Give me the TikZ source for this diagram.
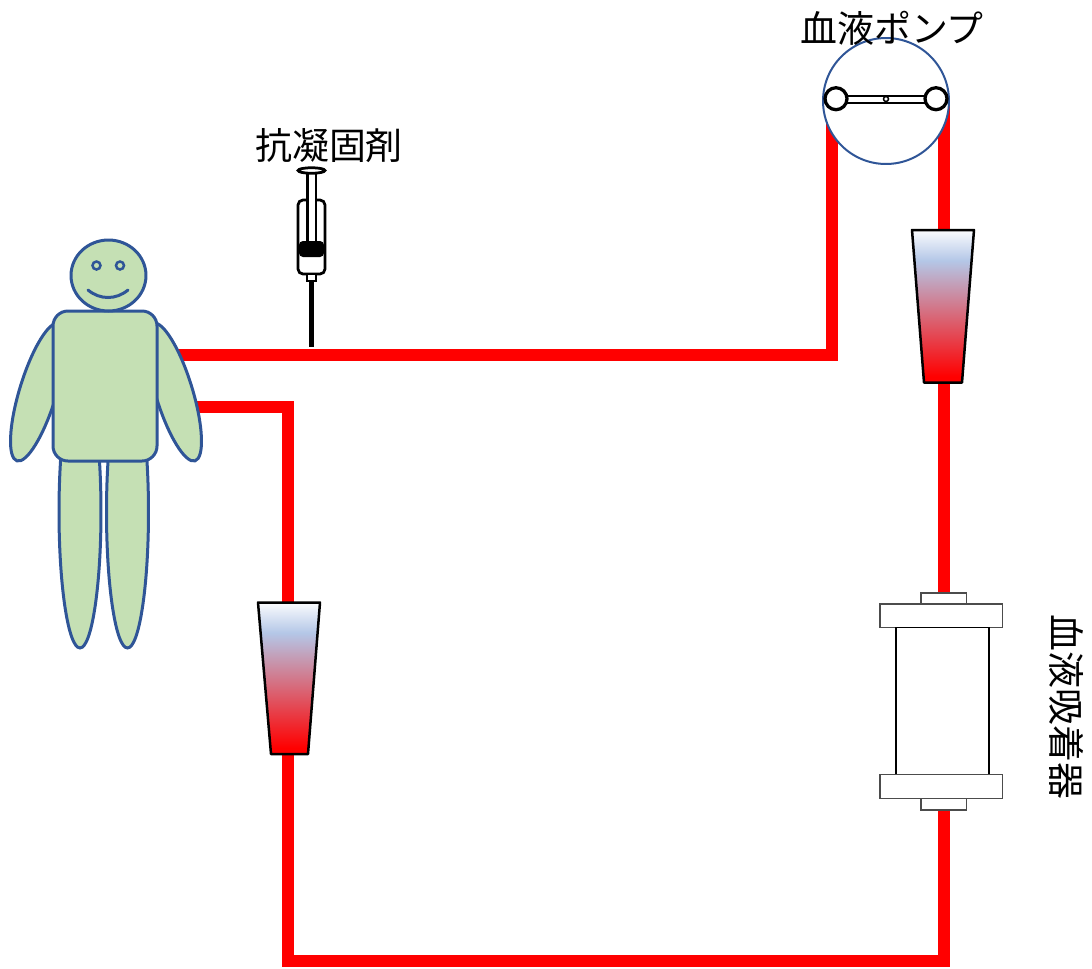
\documentclass[tikz,border=0pt]{standalone}
\usepackage{fontspec}
\newfontfamily\jp{Noto Sans CJK JP}
\definecolor{tube}{HTML}{FF0000}
\definecolor{skin}{HTML}{C5E0B4}
\definecolor{outline}{HTML}{2F5597}
\definecolor{mist}{HTML}{B4C7E7}
% drip chamber: red blood at the bottom, pale blue air space at the top
\pgfdeclareverticalshading{dripfill}{100bp}{color(0bp)=(tube); color(27bp)=(tube); color(65bp)=(mist); color(75bp)=(white!94!mist); color(100bp)=(white)}
\begin{document}
\begin{tikzpicture}[x=0.02cm,y=-0.02cm,
  tubeline/.style={draw=tube, line width=0.25cm},
  skinpart/.style={fill=skin, draw=outline, line width=0.06cm},
  lbl/.style={font=\jp\fontsize{21}{25}\selectfont, inner sep=0pt},
  chamber/.style={shading=dripfill, draw=black, line width=0.05cm, line join=round},
  colpart/.style={draw=black!70, fill=white, line width=0.026cm},
  rotorpart/.style={draw=black, fill=white, line width=0.065cm},
  syr/.style={draw=black, fill=white, line width=0.055cm}]

\useasboundingbox (0,0) rectangle (1092,968);

% tube end points
\coordinate (outlet) at (150,355);
\coordinate (pumpIn) at (832,101);
\coordinate (pumpOut) at (944,101);
\coordinate (bottomLeft) at (288,961);
\coordinate (inlet) at (170,407);

% blood circuit
\draw[tubeline] (outlet) -| (pumpIn);
\draw[tubeline] (pumpOut) |- (bottomLeft) |- (inlet);

% patient
\draw[skinpart] (80,512) ellipse [x radius=0.42cm, y radius=2.72cm];
\draw[skinpart] (127.5,512) ellipse [x radius=0.42cm, y radius=2.72cm];
\draw[skinpart, rotate around={-17:(38,392)}] (38,392) ellipse [x radius=0.37cm, y radius=1.44cm];
\draw[skinpart, rotate around={17:(174,392)}] (174,392) ellipse [x radius=0.37cm, y radius=1.44cm];
\draw[skinpart, rounded corners=0.3cm] (53,311) rectangle (157,461);
\draw[skinpart] (108.5,275.5) ellipse [x radius=0.75cm, y radius=0.71cm];
\draw[skinpart, line width=0.05cm] (96.5,265.5) circle [radius=0.08cm];
\draw[skinpart, line width=0.05cm] (120,265.5) circle [radius=0.08cm];
\draw[outline, line width=0.06cm, line cap=round] (88,290) .. controls (100,300) and (116,300) .. (128,290);

% anticoagulant syringe
\draw[syr, rounded corners=0.1cm] (298,200) rectangle (325,274);
\draw[syr] (307.5,173) rectangle (316,245);
\fill[rounded corners=0.08cm] (299,241) rectangle (324,257);
\draw[syr] (307,274) rectangle (316,281);
\draw[line width=0.1cm] (311.5,281) -- (311.5,347);
\draw[syr] (311.5,170.5) ellipse [x radius=0.27cm, y radius=0.055cm];
\node[lbl] (drug) at (329,146) {抗凝固剤};

% blood pump
\node[circle, draw=outline, fill=white, line width=0.04cm, minimum size=2.52cm, inner sep=0pt] (pump) at (886,101) {};
\draw[rotorpart, line width=0.045cm] (846,96.2) rectangle (926,103.2);
\draw[rotorpart] (836,98.7) circle [radius=0.22cm];
\draw[rotorpart] (936,98.7) circle [radius=0.22cm];
\draw[rotorpart, line width=0.03cm] (886,99) circle [radius=0.05cm];
\node[lbl] (pumpname) at (892,28) {血液ポンプ};

% drip chambers
\shadedraw[chamber] (258,602.5) -- (320,602.5) -- (308,754) -- (271,754) -- cycle;
\shadedraw[chamber] (912,230) -- (974,230) -- (962,382.5) -- (924,382.5) -- cycle;

% adsorption column
\draw[colpart] (921,593) rectangle (966.5,604);
\draw[colpart] (880,604) rectangle (1002.5,627.5);
\draw[colpart, draw=black] (896,627.5) rectangle (989,774.5);
\draw[colpart] (880,774.5) rectangle (1002.5,798.5);
\draw[colpart] (921,798.5) rectangle (966.5,810);
\node[lbl, rotate=-90] (column) at (1067,707) {血液吸着器};
\end{tikzpicture}
\end{document}
